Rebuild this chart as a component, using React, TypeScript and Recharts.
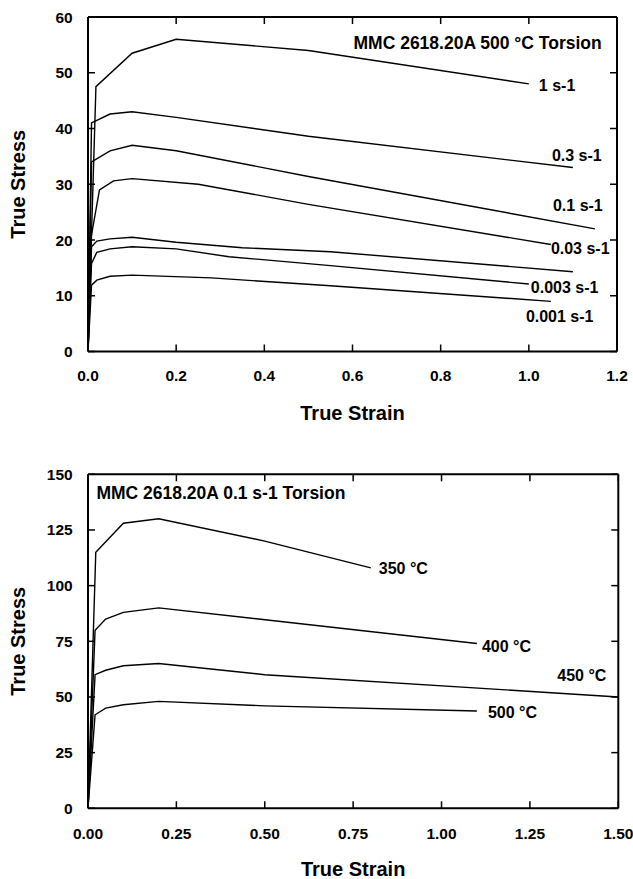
import { Label, Line, LineChart, XAxis, YAxis } from "recharts";

type Pt = [number, number];

const FONT = '"Liberation Sans", Arial, Helvetica, sans-serif';

// top panel: 500 °C torsion, one curve per strain rate (strain, stress)
const r1: Pt[] = [[0, 0], [0.018, 47.5], [0.1, 53.5], [0.2, 56], [0.5, 54], [1.0, 48]];
const r0_3: Pt[] = [[0, 0], [0.008, 41], [0.05, 42.6], [0.1, 43], [0.2, 42], [0.5, 38.6], [1.1, 33]];
const r0_1: Pt[] = [[0, 0], [0.008, 34], [0.05, 36], [0.1, 37], [0.2, 36], [0.5, 31.4], [1.15, 22]];
const r0_03: Pt[] = [[0, 0], [0.006, 20], [0.026, 29], [0.058, 30.6], [0.1, 31], [0.25, 30], [0.5, 26.4], [1.05, 19.2]];
const r0_01: Pt[] = [[0, 0], [0.008, 18.8], [0.02, 19.8], [0.05, 20.2], [0.1, 20.5], [0.2, 19.6], [0.35, 18.6], [0.55, 17.9], [1.1, 14.3]];
const r0_003: Pt[] = [[0, 0], [0.008, 15.8], [0.02, 17.8], [0.05, 18.4], [0.1, 18.8], [0.2, 18.4], [0.32, 17], [0.55, 15.4], [1.0, 12.1]];
const r0_001: Pt[] = [[0, 0], [0.008, 11.9], [0.02, 12.8], [0.05, 13.5], [0.1, 13.7], [0.28, 13.2], [0.55, 11.8], [1.05, 9.0]];

const rateCurves = [r1, r0_3, r0_1, r0_03, r0_01, r0_003, r0_001];
const rateNames = ["1 s-1", "0.3 s-1", "0.1 s-1", "0.03 s-1", "", "0.003 s-1", "0.001 s-1"];

// bottom panel: 0.1 s-1 torsion, one curve per temperature
const t350: Pt[] = [[0, 0], [0.022, 115], [0.1, 128], [0.2, 130], [0.5, 120], [0.8, 108]];
const t400: Pt[] = [[0, 0], [0.02, 80], [0.05, 85], [0.1, 88], [0.2, 90], [1.1, 74]];
const t450: Pt[] = [[0, 0], [0.02, 60], [0.05, 62], [0.1, 64], [0.2, 65], [0.5, 60], [1.5, 50]];
const t500: Pt[] = [[0, 0], [0.02, 42], [0.05, 45], [0.1, 46.5], [0.2, 48], [0.5, 46], [1.1, 43.7]];

const tempCurves = [t350, t400, t450, t500];
const tempNames = ["350 °C", "400 °C", "450 °C", "500 °C"];

const topStrainTicks = [0, 0.2, 0.4, 0.6, 0.8, 1.0, 1.2];
const topStressTicks = [0, 10, 20, 30, 40, 50, 60];
const bottomStrainTicks = [0, 0.25, 0.5, 0.75, 1.0, 1.25, 1.5];
const bottomStressTicks = [0, 25, 50, 75, 100, 125, 150];

// where each end label sits relative to the last point of its curve
const rateLabelOffset: Pt[] = [[10, 2], [-21, -12], [-42, -23], [0, 4], [0, 0], [2, 3], [-25, 15]];
const tempLabelOffset: Pt[] = [[8, 1], [5, 3], [-61, -21], [11, 2]];

const rows = (pts: Pt[]) => pts.map(([strain, stress]) => ({ strain, stress }));

const TICK_LEN = 7;
const TICK_COLOR = "#000";
const Y_LABEL_GAP = 15.3;
const textProps = { fill: "#000", fontFamily: FONT, fontWeight: "bold" as const };
const titleStyle = { fill: "#000", fontSize: 20, fontWeight: "bold", fontFamily: FONT };

// inward tick + label on the left axis (label sits Y_LABEL_GAP left of the frame)
function leftTick(props: any) {
  const { x, y, payload } = props;
  return (
    <g>
      <line x1={x + Y_LABEL_GAP} x2={x + Y_LABEL_GAP + TICK_LEN} y1={y} y2={y} stroke={TICK_COLOR} strokeWidth={1.5} />
      <text x={x} y={y} textAnchor="end" dominantBaseline="central" fontSize={15.5} {...textProps}>
        {payload.value}
      </text>
    </g>
  );
}

function bottomTick(gap: number, digits: number) {
  return (props: any) => {
    const { x, y, payload } = props;
    return (
      <g>
        <line x1={x} x2={x} y1={y - gap} y2={y - gap - TICK_LEN} stroke={TICK_COLOR} strokeWidth={1.5} />
        <text x={x} y={y} textAnchor="middle" dominantBaseline="central" fontSize={15.5} {...textProps}>
          {Number(payload.value).toFixed(digits)}
        </text>
      </g>
    );
  };
}

function topTick(props: any) {
  const { x, y } = props;
  return <line x1={x} x2={x} y1={y} y2={y + TICK_LEN} stroke={TICK_COLOR} strokeWidth={1.5} />;
}

function rightTick(props: any) {
  const { x, y } = props;
  return <line x1={x - TICK_LEN} x2={x} y1={y} y2={y} stroke={TICK_COLOR} strokeWidth={1.5} />;
}

function endLabel(text: string, last: number, [dx, dy]: Pt) {
  return (props: any) => {
    if (props.index !== last || !text) return null;
    return (
      <text
        x={Number(props.x) + dx}
        y={Number(props.y) + dy}
        textAnchor="start"
        dominantBaseline="central"
        fontSize={16}
        {...textProps}
      >
        {text}
      </text>
    );
  };
}

function plotNote(text: string, dx: number, dy: number, anchor: "start" | "end") {
  return (props: any) => {
    const vb = props.viewBox;
    const x = anchor === "end" ? vb.x + vb.width - dx : vb.x + dx;
    return (
      <text x={x} y={vb.y + vb.height + dy} textAnchor={anchor} dominantBaseline="central" fontSize={17.5} {...textProps}>
        {text}
      </text>
    );
  };
}

type PanelProps = {
  height: number;
  margin: { top: number; right: number; left: number; bottom: number };
  xAxisHeight: number;
  xDomain: [number, number];
  yDomain: [number, number];
  xTicks: number[];
  yTicks: number[];
  xDigits: number;
  xLabelGap: number;
  xTitleOffset: number;
  curves: Pt[][];
  names: string[];
  offsets: Pt[];
  note: (props: any) => any;
};

function Panel(p: PanelProps) {
  const axisLine = { stroke: "#000", strokeWidth: 2 };
  return (
    <LineChart width={633} height={p.height} margin={p.margin}>
      <XAxis
        type="number"
        dataKey="strain"
        domain={p.xDomain}
        ticks={p.xTicks}
        allowDataOverflow
        height={p.xAxisHeight}
        tickSize={0}
        tickMargin={p.xLabelGap}
        axisLine={axisLine}
        tickLine={false}
        tick={bottomTick(p.xLabelGap, p.xDigits)}
        interval={0}
      >
        <Label value="True Strain" position="insideBottom" offset={p.xTitleOffset} style={titleStyle} />
      </XAxis>
      <XAxis
        xAxisId="top"
        orientation="top"
        type="number"
        dataKey="strain"
        domain={p.xDomain}
        ticks={p.xTicks}
        allowDataOverflow
        height={1}
        tickSize={0}
        tickMargin={0}
        axisLine={axisLine}
        tickLine={false}
        tick={topTick}
        interval={0}
      >
        <Label content={p.note} />
      </XAxis>
      <YAxis
        type="number"
        domain={p.yDomain}
        ticks={p.yTicks}
        allowDataOverflow
        width={88}
        tickSize={0}
        tickMargin={Y_LABEL_GAP}
        axisLine={axisLine}
        tickLine={false}
        tick={leftTick}
        interval={0}
      >
        <Label
          value="True Stress"
          angle={-90}
          position="insideLeft"
          offset={17.5}
          style={{ ...titleStyle, textAnchor: "middle" }}
        />
      </YAxis>
      <YAxis
        yAxisId="right"
        orientation="right"
        type="number"
        domain={p.yDomain}
        ticks={p.yTicks}
        allowDataOverflow
        width={1}
        tickSize={0}
        tickMargin={0}
        axisLine={axisLine}
        tickLine={false}
        tick={rightTick}
        interval={0}
      />
      {p.curves.map((pts, i) => (
        <Line
          key={i}
          data={rows(pts)}
          dataKey="stress"
          type="linear"
          stroke="#000"
          strokeWidth={1.4}
          dot={false}
          activeDot={false}
          isAnimationActive={false}
          label={endLabel(p.names[i], pts.length - 1, p.offsets[i])}
        />
      ))}
    </LineChart>
  );
}

export default function App() {
  return (
    <div style={{ position: "absolute", left: 0, top: 0, width: 633, height: 879, background: "#fff" }}>
      <Panel
        height={440}
        margin={{ top: 16, right: 15, left: 0, bottom: 0 }}
        xAxisHeight={88.5}
        xDomain={[0, 1.2]}
        yDomain={[0, 60]}
        xTicks={topStrainTicks}
        yTicks={topStressTicks}
        xDigits={1}
        xLabelGap={24}
        xTitleOffset={20}
        curves={rateCurves}
        names={rateNames}
        offsets={rateLabelOffset}
        note={plotNote("MMC 2618.20A 500 °C Torsion", 15.3, 26.3, "end")}
      />
      <Panel
        height={439}
        margin={{ top: 33.3, right: 13.7, left: 0, bottom: 0 }}
        xAxisHeight={70.7}
        xDomain={[0, 1.5]}
        yDomain={[0, 150]}
        xTicks={bottomStrainTicks}
        yTicks={bottomStressTicks}
        xDigits={2}
        xLabelGap={24.7}
        xTitleOffset={3}
        curves={tempCurves}
        names={tempNames}
        offsets={tempLabelOffset}
        note={plotNote("MMC 2618.20A 0.1 s-1 Torsion", 8.4, 19, "start")}
      />
    </div>
  );
}
